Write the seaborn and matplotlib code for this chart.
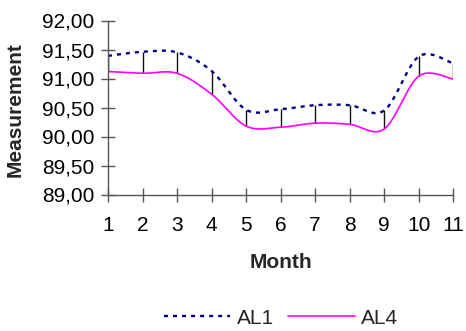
import numpy as np
import pandas as pd
import matplotlib
matplotlib.use("Agg")
import matplotlib.pyplot as plt
from matplotlib.ticker import FuncFormatter
import seaborn as sns

months = [1, 2, 3, 4, 5, 6, 7, 8, 9, 10, 11]
al1 = [91.39, 91.46, 91.45, 91.13, 90.46, 90.47, 90.54, 90.54, 90.45, 91.38, 91.26]
al4 = [91.12, 91.09, 91.09, 90.73, 90.18, 90.16, 90.23, 90.21, 90.13, 91.04, 90.99]
y_ticks = [89.0, 89.5, 90.0, 90.5, 91.0, 91.5, 92.0]


def smooth(x, y, steps=24):
    """Bezier-smoothed curve through the points (Catmull-Rom style)."""
    x = np.asarray(x, float)
    y = np.asarray(y, float)
    px = np.concatenate([[x[0]], x, [x[-1]]])
    py = np.concatenate([[y[0]], y, [y[-1]]])
    t = np.linspace(0, 1, steps, endpoint=False)
    xs, ys = [], []
    for i in range(1, len(px) - 2):
        p0 = np.array([px[i], py[i]])
        p3 = np.array([px[i + 1], py[i + 1]])
        c1 = p0 + (p3 - np.array([px[i - 1], py[i - 1]])) / 6.0
        c2 = p3 - (np.array([px[i + 2], py[i + 2]]) - p0) / 6.0
        b = ((1 - t) ** 3)[:, None] * p0 + (3 * (1 - t) ** 2 * t)[:, None] * c1 \
            + (3 * (1 - t) * t ** 2)[:, None] * c2 + (t ** 3)[:, None] * p3
        xs.append(b[:, 0])
        ys.append(b[:, 1])
    xs.append([x[-1]])
    ys.append([y[-1]])
    return np.concatenate(xs), np.concatenate(ys)


frames = []
for name, vals in (("AL1", al1), ("AL4", al4)):
    sx, sy = smooth(months, vals)
    frames.append(pd.DataFrame({"Month": sx, "Measurement": sy, "series": name}))
curves = pd.concat(frames, ignore_index=True)

sns.set_theme(style="white")
plt.rcParams["font.family"] = ["Liberation Sans", "DejaVu Sans"]
plt.rcParams["lines.scale_dashes"] = False

FS = 15

fig = plt.figure(figsize=(4.66, 3.31), dpi=100)
ax = fig.add_axes([108 / 466, 1 - 194.5 / 331, (453.3 - 108) / 466, 174 / 331])

# high-low lines between the two series
ax.vlines(months, al4, al1, colors="#111111", linewidth=1.0, zorder=1)

sns.lineplot(data=curves, x="Month", y="Measurement", hue="series",
             palette={"AL1": "#000080", "AL4": "#FF00FF"},
             style="series", dashes={"AL1": (2.9, 3.6), "AL4": ""},
             sort=False, estimator=None, ax=ax, legend=False, zorder=2)
lines = ax.get_lines()
lines[0].set_linewidth(1.7)
lines[1].set_linewidth(1.2)

ax.set_xlim(1, 11)
ax.set_ylim(89, 92)
ax.set_xticks(months)
ax.set_yticks(y_ticks)
ax.yaxis.set_major_formatter(FuncFormatter(lambda v, p: f"{v:.2f}".replace(".", ",")))

for side in ("top", "right"):
    ax.spines[side].set_visible(False)
for side in ("left", "bottom"):
    ax.spines[side].set_color("#555555")
    ax.spines[side].set_linewidth(1.0)
ax.tick_params(axis="both", direction="inout", length=9.5, width=1.0,
               color="#555555", labelsize=FS, labelcolor="black",
               bottom=True, left=True)
ax.tick_params(axis="y", pad=5)
ax.tick_params(axis="x", pad=10.5)

ax.set_xlabel("Month", fontsize=FS, fontweight="bold")
ax.set_ylabel("Measurement", fontsize=FS, fontweight="bold")
ax.xaxis.set_label_coords(0.5, -0.334)
ax.yaxis.set_label_coords(-0.242, 0.49)

handles = [plt.Line2D([], [], color="#000080", linewidth=1.7, dashes=(2.9, 3.6)),
           plt.Line2D([], [], color="#FF00FF", linewidth=1.2)]
fig.legend(handles, ["AL1", "AL4"], loc="center", ncol=2, frameon=False,
           bbox_to_anchor=(281 / 466, 1 - 318 / 331), fontsize=FS,
           handlelength=3.2, handletextpad=0.3, columnspacing=0.7)

fig.savefig("out.png", dpi=100)
